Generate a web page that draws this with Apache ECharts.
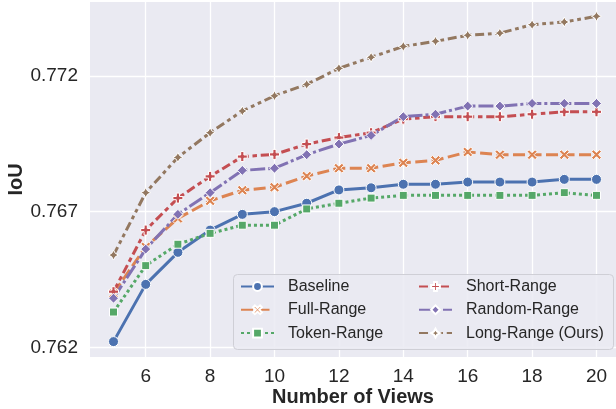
<!DOCTYPE html>
<html>
<head>
<meta charset="utf-8">
<script src="https://cdn.jsdelivr.net/npm/echarts@6/dist/echarts.min.js"></script>
<style>
html,body{margin:0;padding:0;background:#fff;}
#c{width:616px;height:409px;}
</style>
</head>
<body>
<div id="c"></div>
<script>
const views = [5,6,7,8,9,10,11,12,13,14,15,16,17,18,19,20];
const baseline    = [0.76221,0.76432,0.76550,0.76632,0.76690,0.76700,0.76731,0.76780,0.76788,0.76801,0.76801,0.76809,0.76809,0.76809,0.76819,0.76819];
const fullRange   = [0.76399,0.76570,0.76675,0.76740,0.76779,0.76790,0.76831,0.76860,0.76860,0.76880,0.76889,0.76920,0.76910,0.76910,0.76910,0.76910];
const tokenRange  = [0.76330,0.76501,0.76580,0.76620,0.76650,0.76650,0.76710,0.76731,0.76750,0.76760,0.76760,0.76760,0.76760,0.76760,0.76770,0.76760];
const shortRange  = [0.76405,0.76632,0.76750,0.76830,0.76903,0.76911,0.76949,0.76973,0.76991,0.77041,0.77050,0.77050,0.77050,0.77059,0.77068,0.77068];
const randomRange = [0.76381,0.76562,0.76690,0.76770,0.76852,0.76860,0.76910,0.76949,0.76981,0.77050,0.77059,0.77089,0.77089,0.77099,0.77099,0.77099];
const longRange   = [0.76540,0.76770,0.76900,0.76991,0.77071,0.77127,0.77169,0.77228,0.77269,0.77309,0.77328,0.77350,0.77358,0.77389,0.77399,0.77420];
const xTicks = [6,8,10,12,14,16,18,20];
const yTicks = [0.762,0.767,0.772];

const FONT = 'Liberation Sans';
const TXT = '#262626';

const SYM_X = 'path://M2,0 L5,3 L8,0 L10,2 L7,5 L10,8 L8,10 L5,7 L2,10 L0,8 L3,5 L0,2 Z';
const SYM_P = 'path://M3.4,0 H6.6 V3.4 H10 V6.6 H6.6 V10 H3.4 V6.6 H0 V3.4 H3.4 Z';
const SYM_STAR = 'path://M5,0 L6.77,3.23 L10,5 L6.77,6.77 L5,10 L3.23,6.77 L0,5 L3.23,3.23 Z';

const defs = [
  {name:'Baseline', data:baseline, color:'#4C72B0', dash:'solid', symbol:'circle', size:10},
  {name:'Full-Range', data:fullRange, color:'#DD8452', dash:[12,4.5], symbol:SYM_X, size:10},
  {name:'Token-Range', data:tokenRange, color:'#55A868', dash:[3,3], symbol:'rect', size:8},
  {name:'Short-Range', data:shortRange, color:'#C44E52', dash:[9,3.75,4.5,3.75], symbol:SYM_P, size:10},
  {name:'Random-Range', data:randomRange, color:'#8172B3', dash:[15,3,3,3], symbol:'diamond', size:10},
  {name:'Long-Range (Ours)', data:longRange, color:'#937860', dash:[9,3.75,3.75,3.75,3.75,3.75], symbol:SYM_STAR, size:10}
];

const series = defs.map(d => ({
  name: d.name,
  type: 'line',
  data: views.map((v,i) => [v, d.data[i]]),
  symbol: d.symbol,
  symbolSize: d.size,
  showAllSymbol: true,
  color: d.color,
  lineStyle: {color: d.color, width: 3, type: d.dash},
  itemStyle: {color: d.color, borderColor: '#ffffff', borderWidth: 1},
  emphasis: {disabled: true},
  animation: false
}));

const legendCommon = {
  orient: 'vertical',
  padding: 0,
  itemWidth: 33,
  itemHeight: 11,
  itemGap: 7.3,
  z: 6,
  textStyle: {fontFamily: FONT, fontSize: 16, color: TXT, lineHeight: 16, padding: [0,0,0,9]},
  selectedMode: false
};

const chart = echarts.init(document.getElementById('c'));
chart.setOption({
  backgroundColor: '#ffffff',
  animation: false,
  grid: {left: 90, right: 0, top: 2, bottom: 52, show: true, backgroundColor: '#EAEAF2', borderWidth: 0, containLabel: false, outerBoundsMode: 'none'},
  xAxis: {
    type: 'value', min: 4.27, max: 20.606,
    name: 'Number of Views', nameLocation: 'middle', nameGap: 30, nameMoveOverlap: false,
    nameTextStyle: {fontFamily: FONT, fontSize: 20, fontWeight: 'bold', color: TXT},
    axisLine: {show: false}, axisTick: {show: false, customValues: xTicks},
    axisLabel: {customValues: xTicks, fontFamily: FONT, fontSize: 19, color: TXT, margin: 10},
    splitLine: {show: true, lineStyle: {color: '#ffffff', width: 1.3}}
  },
  yAxis: {
    type: 'value', min: 0.761643, max: 0.774727,
    name: 'IoU', nameLocation: 'middle', nameGap: 64, nameMoveOverlap: false,
    nameTextStyle: {fontFamily: FONT, fontSize: 20, fontWeight: 'bold', color: TXT},
    axisLine: {show: false}, axisTick: {show: false, customValues: yTicks},
    axisLabel: {customValues: yTicks, fontFamily: FONT, fontSize: 19, color: TXT, margin: 12, formatter: v => v.toFixed(3)},
    splitLine: {show: true, lineStyle: {color: '#ffffff', width: 1.3}}
  },
  legend: [
    Object.assign({left: 240, top: 278.5, data: ['Baseline','Full-Range','Token-Range']}, legendCommon),
    Object.assign({left: 418, top: 278.5, data: ['Short-Range','Random-Range','Long-Range (Ours)']}, legendCommon)
  ],
  graphic: [{
    type: 'rect', left: 233, top: 274, z: 3,
    shape: {width: 380, height: 75, r: 4},
    style: {fill: 'rgba(234,234,242,0.85)', stroke: '#cfcfd6', lineWidth: 1}
  }],
  series: series
});
</script>
</body>
</html>
